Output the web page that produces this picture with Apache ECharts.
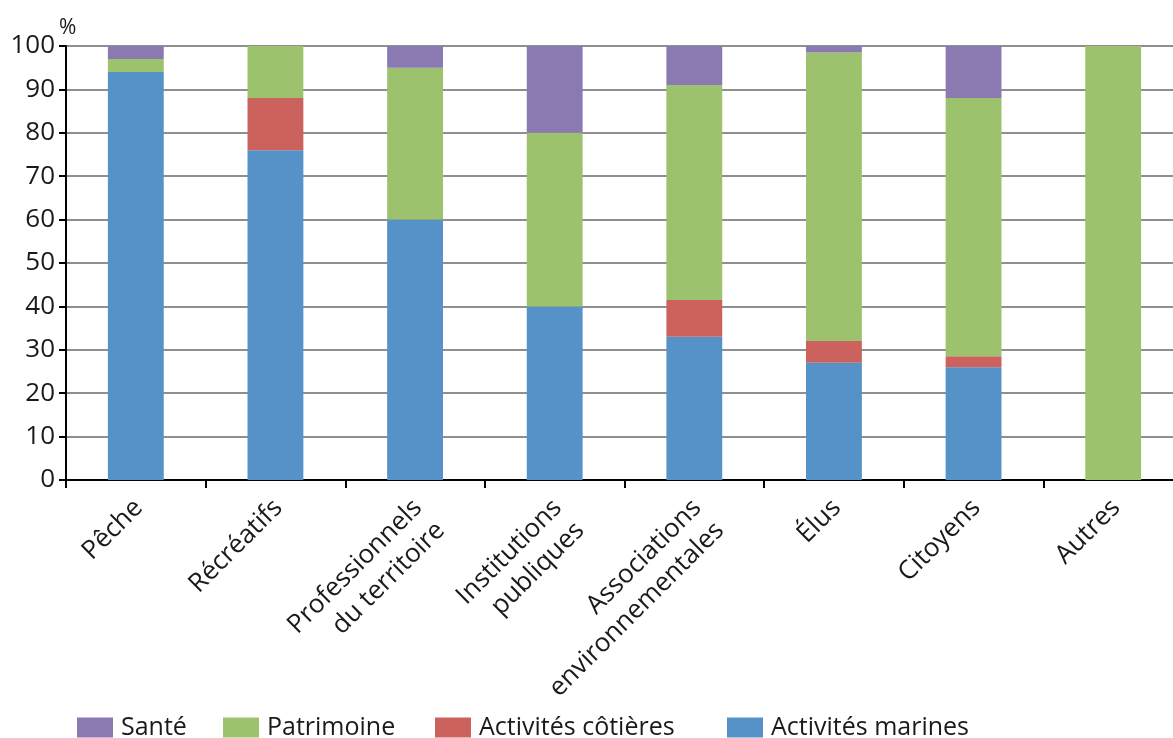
<!DOCTYPE html>
<html>
<head>
<meta charset="utf-8">
<script src="https://cdn.jsdelivr.net/npm/echarts@6/dist/echarts.min.js"></script>
<style>
html,body{margin:0;padding:0;background:#fff;}
#chart{width:1173px;height:738px;}
</style>
</head>
<body>
<div id="chart"></div>
<script>
var categories = ['Pêche', 'Récréatifs', 'Professionnels\ndu territoire', 'Institutions\npubliques', 'Associations\nenvironnementales', 'Élus', 'Citoyens', 'Autres'];
var seriesNames = ['Santé', 'Patrimoine', 'Activités côtières', 'Activités marines'];
var marines = [94, 76, 60, 40, 33, 27, 26, 0];
var cotieres = [0, 12, 0, 0, 8.5, 5, 2.5, 0];
var patrimoine = [3, 12, 35, 40, 49.5, 66.5, 59.5, 100];
var sante = [3, 0, 5, 20, 9, 1.5, 12, 0];
var yTicks = [0, 10, 20, 30, 40, 50, 60, 70, 80, 90, 100];
var unitLabel = '%';

var colors = {
  'Santé': '#8b79b1',
  'Patrimoine': '#9dc26d',
  'Activités côtières': '#cc625d',
  'Activités marines': '#5592c8'
};
var FONT = 'Open Sans';
var chart = echarts.init(document.getElementById('chart'));

function mkSeries(name, data) {
  return {
    name: name, type: 'bar', stack: 'total', data: data,
    barWidth: '40%',
    itemStyle: { color: colors[name] },
    emphasis: { disabled: true }
  };
}
var legendLefts = [72, 218, 430, 722];
var legends = seriesNames.map(function (n, i) {
  return {
    data: [n], left: legendLefts[i], top: 710,
    itemWidth: 36, itemHeight: 20, icon: 'rect',
    textStyle: { fontFamily: FONT, fontSize: 25, color: '#1a1a1a', padding: [0, 0, 0, 3] },
    selectedMode: false
  };
});

chart.setOption({
  animation: false,
  textStyle: { fontFamily: FONT },
  title: {
    text: unitLabel, left: 59, top: 18, padding: 0,
    textStyle: { fontFamily: FONT, fontSize: 21, fontWeight: 'normal', color: '#1a1a1a' }
  },
  legend: legends,
  grid: { left: 66, width: 1117, top: 46, bottom: 258, containLabel: false, outerBoundsMode: 'none' },
  xAxis: {
    type: 'category', data: categories,
    axisLine: { lineStyle: { color: '#000', width: 2 } },
    axisTick: { show: true, length: 8, lineStyle: { color: '#000', width: 2 } },
    axisLabel: {
      interval: 0, rotate: 45, fontFamily: FONT, fontSize: 26, color: '#1a1a1a',
      lineHeight: 32, align: 'right', verticalAlign: 'top', margin: 4, padding: [0, 12, 0, 0]
    }
  },
  yAxis: {
    type: 'value', min: yTicks[0], max: yTicks[yTicks.length - 1], interval: 10,
    axisLine: { show: true, lineStyle: { color: '#000', width: 2 } },
    axisTick: { show: true, length: 7, lineStyle: { color: '#000', width: 2 } },
    axisLabel: { fontFamily: FONT, fontSize: 26, color: '#1a1a1a', margin: 11 },
    splitLine: { show: true, lineStyle: { color: '#8f8f8f', width: 2 } }
  },
  series: [
    mkSeries('Activités marines', marines),
    mkSeries('Activités côtières', cotieres),
    mkSeries('Patrimoine', patrimoine),
    mkSeries('Santé', sante)
  ]
});
</script>
</body>
</html>
